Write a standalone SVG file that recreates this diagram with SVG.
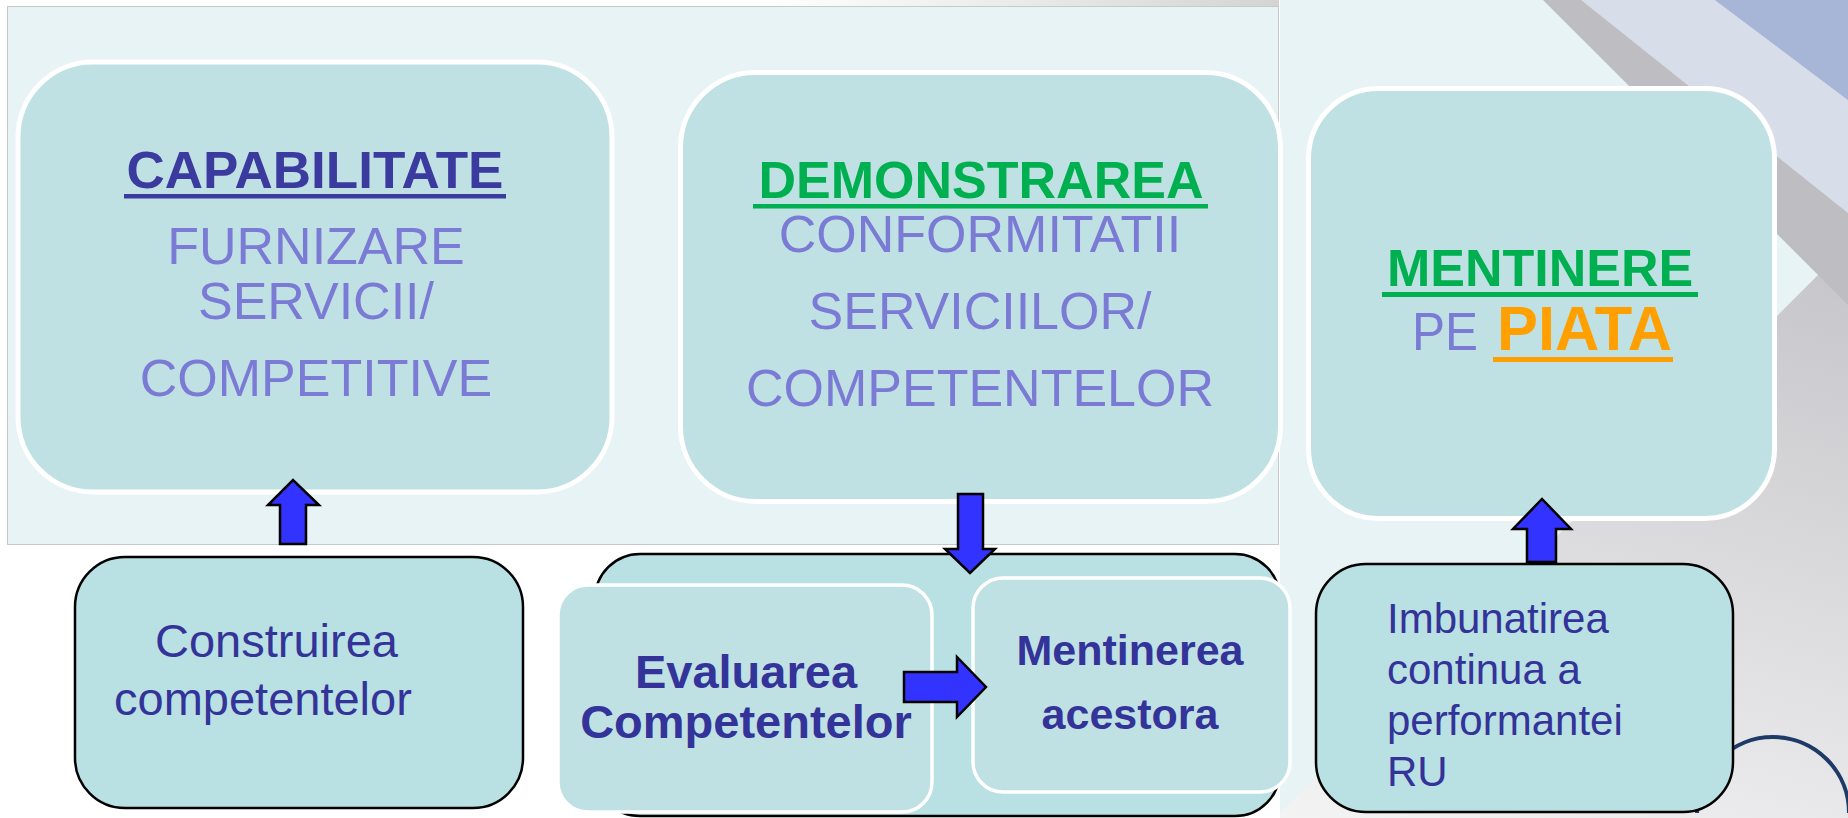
<svg xmlns="http://www.w3.org/2000/svg" width="1848" height="818" viewBox="0 0 1848 818">
<defs>
<linearGradient id="bgGray" x1="1" y1="0" x2="0.35" y2="1">
<stop offset="0" stop-color="#B6B6BB"/>
<stop offset="0.45" stop-color="#D6D6D9"/>
<stop offset="1" stop-color="#FFFFFF"/>
</linearGradient>
<linearGradient id="strip" x1="0" y1="0" x2="1" y2="0">
<stop offset="0" stop-color="#FFFFFF"/>
<stop offset="0.6" stop-color="#FFFFFF"/>
<stop offset="1" stop-color="#D4D4D4"/>
</linearGradient>
<style>
text{font-family:"Liberation Sans",Arial,Helvetica,sans-serif}
.top{fill:#BFE1E3;stroke:#FFFFFF;stroke-width:5}
.inner{fill:#BFE1E3;stroke:#FFFFFF;stroke-width:3.5}
.bot{fill:#B9E0E2;stroke:#000000;stroke-width:2.5}
.arrow{fill:#3333FF;stroke:#000000;stroke-width:2.5;stroke-linejoin:miter}
.head{font-weight:bold;font-size:52px;text-anchor:middle}
.sub{fill:#7B7BD6;font-size:52px;text-anchor:middle}
.dk{fill:#333399}
.blue{fill:#3B3A9E}
.green{fill:#00B050}
.orange{fill:#FFA000}
</style>
</defs>

<g id="background">
<rect x="0" y="0" width="1848" height="818" fill="url(#bgGray)"/>
<polygon points="1543,0 1581,0 1848,213 1848,305" fill="#BEBEC2"/>
<polygon points="1581,0 1715,0 1848,100 1848,213" fill="#D8DDEA"/>
<polygon points="1715,0 1848,0 1848,100" fill="#A7B6D7"/>
<polygon points="1270,0 1543,0 1818,275 1275,818 1270,818" fill="#E7F3F5"/>
<path d="M1697,813 A76,76 0 0 1 1849,813" fill="none" stroke="#1E3A66" stroke-width="4"/>
<rect x="0" y="0" width="1280" height="818" fill="#FFFFFF"/>
<rect x="7" y="0" width="1272" height="6" fill="url(#strip)"/>
<rect x="7.5" y="6.5" width="1271" height="538" fill="#E7F3F5" stroke="#C6CACB" stroke-width="1"/>
</g>

<g id="node-capabilitate">
<rect class="top" x="18" y="62" width="594" height="430" rx="75" ry="75"/>
<text class="head blue" x="315" y="188" font-size="53" textLength="377" lengthAdjust="spacingAndGlyphs">CAPABILITATE</text>
<rect x="124" y="194" width="382" height="4.5" fill="#3B3A9E"/>
<text class="sub" x="316" y="264">FURNIZARE</text>
<text class="sub" x="316" y="319">SERVICII/</text>
<text class="sub" x="316" y="396">COMPETITIVE</text>
</g>

<g id="node-demonstrarea">
<rect class="top" x="680.5" y="72.5" width="600" height="429" rx="75" ry="75"/>
<text class="head green" x="981" y="198">DEMONSTRAREA</text>
<rect x="753" y="204" width="455" height="4.5" fill="#00B050"/>
<text class="sub" x="980" y="252">CONFORMITATII</text>
<text class="sub" x="980" y="329">SERVICIILOR/</text>
<text class="sub" x="980" y="406">COMPETENTELOR</text>
</g>

<g id="node-mentinere">
<rect class="top" x="1308.5" y="88.5" width="466" height="430" rx="70" ry="70"/>
<text class="head green" x="1540" y="286" font-size="52">MENTINERE</text>
<rect x="1382" y="292" width="316" height="5" fill="#00B050"/>
<text x="1412" y="350" font-size="53" fill="#7B7BD6" textLength="66" lengthAdjust="spacingAndGlyphs">PE</text>
<text class="orange" x="1497" y="350" font-size="63" font-weight="bold" textLength="175" lengthAdjust="spacingAndGlyphs">PIATA</text>
<rect x="1493" y="357" width="180" height="5" fill="#FFA000"/>
</g>

<g id="node-construirea">
<rect class="bot" x="75" y="557" width="448" height="251" rx="50" ry="50"/>
<text class="dk" x="155" y="657" font-size="47">Construirea</text>
<text class="dk" x="114" y="715" font-size="47">competentelor</text>
</g>

<g id="node-evaluare-group">
<rect class="bot" x="595" y="554" width="685" height="262" rx="45" ry="45"/>
<g id="node-evaluarea">
<rect class="inner" x="558" y="585" width="374" height="227" rx="30" ry="30"/>
<text class="dk" x="746" y="688" font-size="47" font-weight="bold" text-anchor="middle">Evaluarea</text>
<text class="dk" x="746" y="738" font-size="47" font-weight="bold" text-anchor="middle">Competentelor</text>
</g>
<g id="node-mentinerea">
<rect class="inner" x="973" y="578" width="317" height="214" rx="30" ry="30"/>
<text class="dk" x="1130" y="665" font-size="43" font-weight="bold" text-anchor="middle">Mentinerea</text>
<text class="dk" x="1130" y="729" font-size="43" font-weight="bold" text-anchor="middle">acestora</text>
</g>
</g>

<g id="node-imbunatatirea">
<rect class="bot" x="1316" y="564" width="417" height="248" rx="50" ry="50"/>
<text class="dk" x="1387" y="633" font-size="42">Imbunatirea</text>
<text class="dk" x="1387" y="684" font-size="42">continua a</text>
<text class="dk" x="1387" y="735" font-size="42">performantei</text>
<text class="dk" x="1387" y="786" font-size="42">RU</text>
</g>

<g id="connectors">
<path class="arrow" d="M280,544 L280,505 L268,505 L293,480 L319,505 L306,505 L306,544 Z"/>
<path class="arrow" d="M958,494 L983,494 L983,549 L995,549 L970,573 L945,549 L958,549 Z"/>
<path class="arrow" d="M904,672 L957,672 L957,657 L986,687 L957,717 L957,702 L904,702 Z"/>
<path class="arrow" d="M1527,562 L1527,529 L1513,529 L1542,499 L1571,529 L1556,529 L1556,562 Z"/>
</g>
</svg>
